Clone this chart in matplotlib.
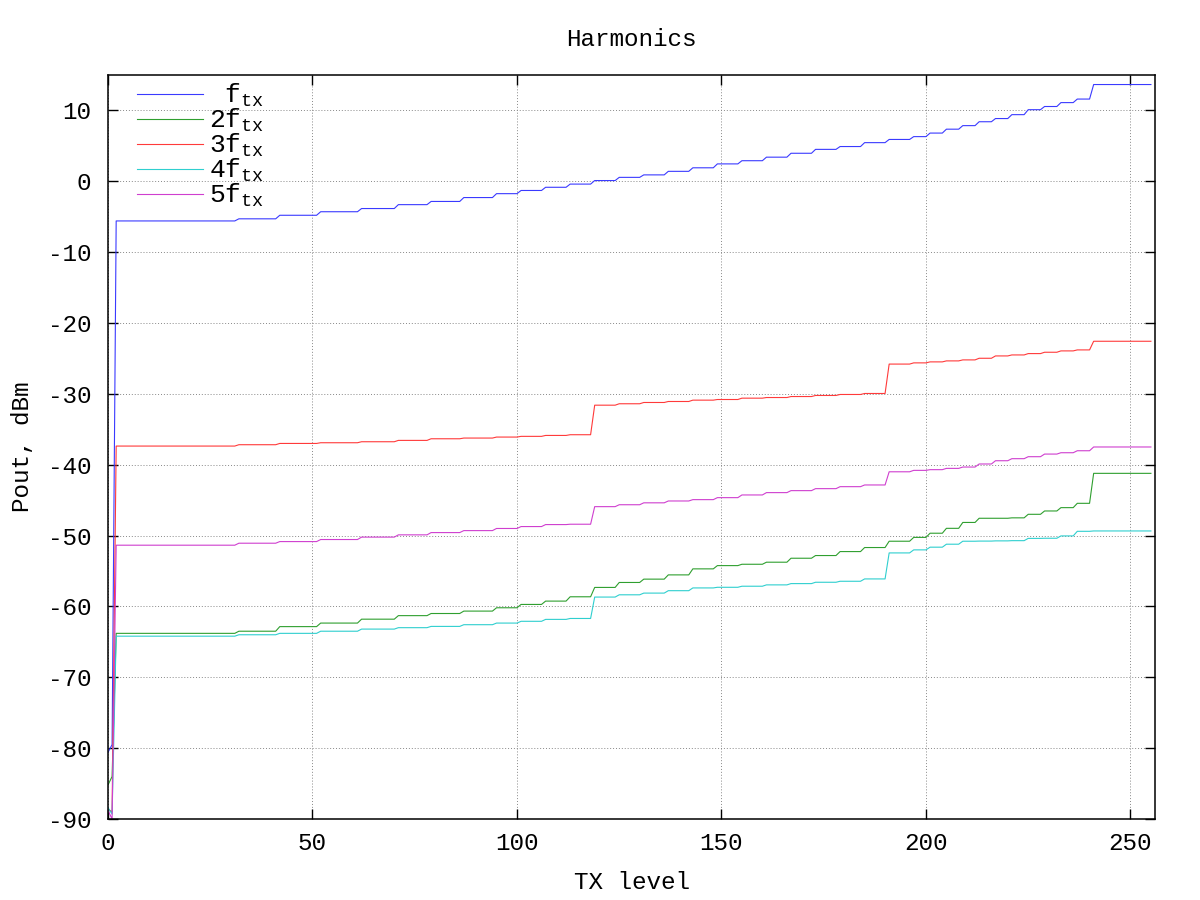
import numpy as np
import matplotlib
matplotlib.use("Agg")
from matplotlib import pyplot as plt

# gnuplot-like look: monospace text, ascii minus
plt.rcParams['font.family'] = ['Liberation Mono', 'DejaVu Sans Mono']
plt.rcParams['mathtext.fontset'] = 'custom'
plt.rcParams['mathtext.rm'] = 'Liberation Mono'
plt.rcParams['mathtext.it'] = 'Liberation Mono'
plt.rcParams['axes.unicode_minus'] = False

# TX level where the output power changes step
steps = [31, 41, 51, 61, 70, 78, 86, 94, 100, 106, 112, 118, 124, 130, 136, 142, 148, 154,
         160, 166, 172, 178, 184, 190, 196, 200, 204, 208, 212, 216, 220, 224, 228, 232, 236, 240]
last_level = 255

# Pout (dBm) at TX level 0 and 1 (ramp-up)
start_f1 = [-80.6, -79.5]
start_f2 = [-85.2, -84.0]
start_f3 = [-88.6, -89.0]
start_f4 = [-88.4, -89.3]
start_f5 = [-88.8, -90.0]

# Pout (dBm) on each plateau, from TX level 2 on
levels_f1 = [-5.6, -5.3, -4.8, -4.3, -3.85, -3.3, -2.85, -2.3, -1.75, -1.3, -0.85, -0.4,
             0.1, 0.55, 0.9, 1.4, 1.9, 2.45, 2.9, 3.4, 3.95, 4.5, 4.9, 5.45,
             5.9, 6.3, 6.8, 7.35, 7.85, 8.4, 8.85, 9.4, 10.1, 10.55, 11.1, 11.6, 13.65]
levels_f2 = [-63.8, -63.5, -62.85, -62.35, -61.8, -61.3, -61.0, -60.66, -60.19, -59.72, -59.25, -58.64,
             -57.32, -56.62, -56.15, -55.55, -54.7, -54.24, -54.05, -53.76, -53.2, -52.82, -52.26, -51.69,
             -50.8, -50.26, -49.67, -48.98, -48.15, -47.56, -47.56, -47.5, -47.0, -46.53, -46.06, -45.45, -41.22]
levels_f3 = [-37.37, -37.18, -37.0, -36.9, -36.76, -36.57, -36.34, -36.24, -36.1, -36.0, -35.87, -35.77,
             -31.6, -31.4, -31.22, -31.08, -30.89, -30.8, -30.61, -30.52, -30.38, -30.23, -30.09, -29.95,
             -25.8, -25.63, -25.49, -25.35, -25.21, -24.98, -24.65, -24.51, -24.32, -24.13, -23.94, -23.8, -22.58]
levels_f4 = [-64.2, -64.0, -63.8, -63.5, -63.2, -63.0, -62.82, -62.58, -62.35, -62.1, -61.83, -61.7,
             -58.68, -58.36, -58.12, -57.78, -57.39, -57.3, -57.15, -56.96, -56.78, -56.59, -56.45, -56.12,
             -52.45, -52.02, -51.64, -51.22, -50.8, -50.78, -50.75, -50.72, -50.4, -50.38, -50.05, -49.4, -49.35]
levels_f5 = [-51.36, -51.08, -50.85, -50.56, -50.22, -49.9, -49.58, -49.3, -49.0, -48.73, -48.45, -48.4,
             -45.92, -45.65, -45.38, -45.12, -44.93, -44.65, -44.27, -43.94, -43.66, -43.38, -43.1, -42.86,
             -41.0, -40.8, -40.7, -40.52, -40.33, -39.9, -39.44, -39.15, -38.87, -38.5, -38.31, -38.03, -37.5]

labels = [" $\\mathrm{f_{tx}}$", "$\\mathrm{2f_{tx}}$", "$\\mathrm{3f_{tx}}$",
          "$\\mathrm{4f_{tx}}$", "$\\mathrm{5f_{tx}}$"]
colors = ["#3a3aff", "#2f9f2f", "#ff3a3a", "#2fcfcf", "#cf3fcf"]


def staircase(start, levels):
    # corner points of the measured curve (each step takes one TX level)
    xs = [0, 1, 2]
    ys = list(start) + [levels[0]]
    for b, lo, hi in zip(steps, levels[:-1], levels[1:]):
        xs += [b, b + 1]
        ys += [lo, hi]
    xs.append(last_level)
    ys.append(levels[-1])
    return np.array(xs), np.array(ys)


fig = plt.figure(figsize=(12, 9), dpi=100)
ax = fig.add_axes([0.09, 0.09, 0.8725, 0.8267])

series = [(start_f1, levels_f1), (start_f2, levels_f2), (start_f3, levels_f3),
          (start_f4, levels_f4), (start_f5, levels_f5)]
for (start, levels), lab, col in zip(series, labels, colors):
    x, y = staircase(start, levels)
    ax.plot(x, y, color=col, linewidth=0.8, label=lab)

ax.set_xlim(0, 256)
ax.set_ylim(-90, 15)
ax.set_xticks(np.arange(0, 251, 50))
ax.set_yticks(np.arange(-90, 11, 10))
ax.grid(True, color="#888888", linestyle=(0, (1, 2)), linewidth=0.7)
ax.tick_params(direction="in", length=7, width=1.0, top=True, right=True, labelsize=17.5)
ax.tick_params(axis="y", pad=12)
ax.tick_params(axis="x", pad=9)
for s in ax.spines.values():
    s.set_linewidth(1.1)

ax.set_xlabel("TX level", fontsize=17.5, labelpad=12)
ax.set_ylabel("Pout, dBm", fontsize=17.5, labelpad=10)
ax.set_title("Harmonics", fontsize=17.5, pad=21)

leg = ax.legend(loc="upper left", frameon=False, fontsize=19, handlelength=2.5,
                handletextpad=0.2, labelspacing=-0.08, borderaxespad=0.0,
                bbox_to_anchor=(0.018, 1.005))

plt.savefig("out.png", dpi=100)
